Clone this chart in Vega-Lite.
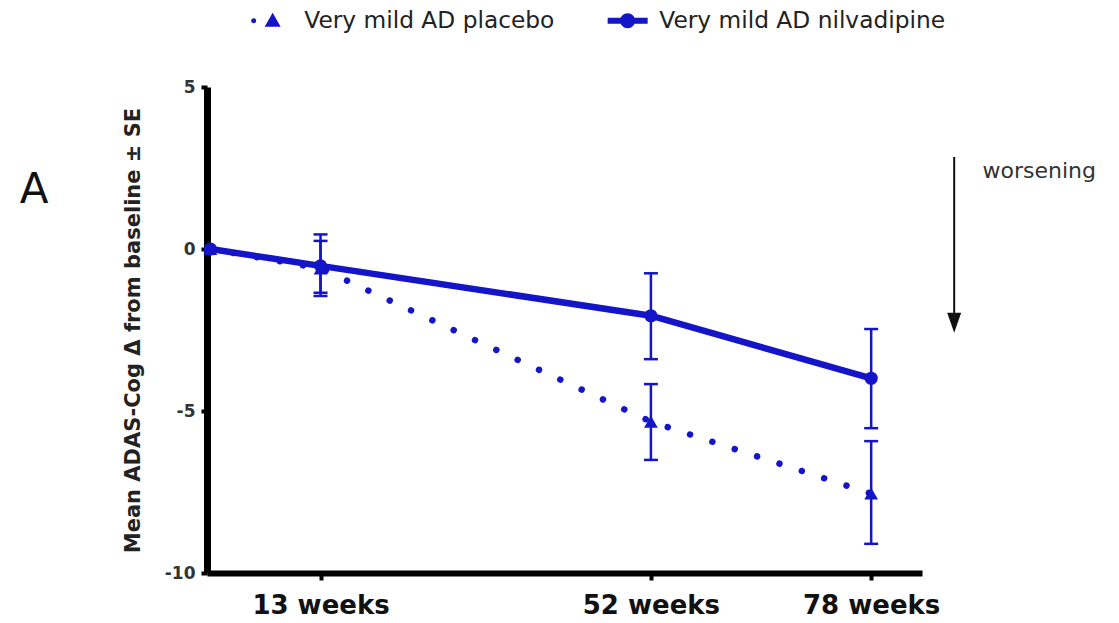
{
  "$schema": "https://vega.github.io/schema/vega-lite/v6.json",
  "width": 715,
  "height": 486,
  "autosize": {"type": "none"},
  "padding": {"left": 207, "top": 87, "right": 197, "bottom": 50},
  "background": "white",
  "config": {"view": {"stroke": null}, "font": "DejaVu Sans"},
  "datasets": {
    "series": [
      {"week": 0, "group": "placebo", "mean": 0},
      {"week": 13, "group": "placebo", "mean": -0.6, "lo": -1.45, "hi": 0.25},
      {"week": 52, "group": "placebo", "mean": -5.33, "lo": -6.51, "hi": -4.17},
      {"week": 78, "group": "placebo", "mean": -7.55, "lo": -9.1, "hi": -5.93},
      {"week": 0, "group": "nilvadipine", "mean": 0},
      {"week": 13, "group": "nilvadipine", "mean": -0.52, "lo": -1.35, "hi": 0.45},
      {"week": 52, "group": "nilvadipine", "mean": -2.06, "lo": -3.4, "hi": -0.75},
      {"week": 78, "group": "nilvadipine", "mean": -3.99, "lo": -5.53, "hi": -2.47}
    ],
    "annot": [
      {"x": 87.8, "ytop": 2.84, "ybot": -2.1, "yhead": -2.28, "tx": 91.14, "ty": 2.19, "label": "worsening", "ax": -20.8, "ay": 1.42, "panel": "A"}
    ]
  },
  "layer": [
    {
      "mark": {"type": "rule", "color": "#777777", "strokeWidth": 1.5, "strokeDash": [2, 4]},
      "encoding": {
        "y": {"datum": 0, "type": "quantitative", "scale": {"domain": [-10, 5]}}
      }
    },
    {
      "data": {"name": "series"},
      "transform": [{"filter": "isValid(datum.lo)"}],
      "mark": {"type": "errorbar", "color": "#1414c8", "thickness": 2.5, "opacity": 1, "ticks": {"size": 14, "thickness": 2.5, "color": "#1414c8", "opacity": 1}},
      "encoding": {
        "x": {"field": "week", "type": "quantitative", "scale": {"domain": [-0.4, 84]}, "title": null},
        "y": {"field": "lo", "type": "quantitative", "scale": {"domain": [-10, 5]}, "title": "Mean ADAS-Cog Δ from baseline ± SE"},
        "y2": {"field": "hi"}
      }
    },
    {
      "data": {"name": "series"},
      "transform": [{"filter": "datum.group == 'placebo'"}],
      "mark": {"type": "line", "color": "#1414c8", "strokeWidth": 6.5, "strokeDash": [0.01, 23.5], "strokeCap": "round"},
      "encoding": {
        "x": {"field": "week", "type": "quantitative", "scale": {"domain": [-0.4, 84]}},
        "y": {"field": "mean", "type": "quantitative", "scale": {"domain": [-10, 5]}}
      }
    },
    {
      "data": {"name": "series"},
      "transform": [{"filter": "datum.group == 'nilvadipine'"}],
      "mark": {"type": "line", "color": "#1414c8", "strokeWidth": 6.5},
      "encoding": {
        "x": {
          "field": "week", "type": "quantitative", "scale": {"domain": [-0.4, 84]},
          "axis": {
            "title": null, "values": [13, 52, 78], "labelExpr": "datum.value + ' weeks'",
            "domainColor": "#000000", "domainWidth": 6, "tickColor": "#000000", "tickWidth": 4, "tickSize": 7,
            "labelFont": "DejaVu Sans", "labelFontWeight": "bold", "labelFontSize": 26, "labelColor": "#111111",
            "labelPadding": 12, "grid": false, "labelFlush": false, "labelOverlap": false
          }
        },
        "y": {
          "field": "mean", "type": "quantitative", "scale": {"domain": [-10, 5]},
          "axis": {
            "title": "Mean ADAS-Cog Δ from baseline ± SE", "values": [-10, -5, 0, 5], "labelExpr": "'' + datum.value",
            "domainColor": "#000000", "domainWidth": 7, "tickColor": "#000000", "tickWidth": 4, "tickSize": 6,
            "labelFont": "DejaVu Sans", "labelFontWeight": "bold", "labelFontSize": 17, "labelColor": "#333333",
            "labelPadding": 6, "grid": false, "labelFlush": false, "labelOverlap": false,
            "titleFont": "DejaVu Sans", "titleFontWeight": "bold", "titleFontSize": 21, "titleColor": "#222222", "titlePadding": 21
          }
        }
      }
    },
    {
      "data": {"name": "series"},
      "transform": [{"filter": "datum.group == 'placebo'"}],
      "mark": {"type": "point", "filled": true, "opacity": 1, "color": "#1414c8", "size": 190, "shape": "triangle-up"},
      "encoding": {
        "x": {"field": "week", "type": "quantitative", "scale": {"domain": [-0.4, 84]}},
        "y": {"field": "mean", "type": "quantitative", "scale": {"domain": [-10, 5]}}
      }
    },
    {
      "data": {"name": "series"},
      "transform": [{"filter": "datum.group == 'nilvadipine'"}],
      "mark": {"type": "point", "filled": true, "opacity": 1, "color": "#1414c8", "size": 175, "shape": "circle"},
      "encoding": {
        "x": {"field": "week", "type": "quantitative", "scale": {"domain": [-0.4, 84]}},
        "y": {"field": "mean", "type": "quantitative", "scale": {"domain": [-10, 5]}}
      }
    },
    {
      "data": {"name": "series"},
      "transform": [{"filter": "false"}],
      "mark": {"type": "point", "filled": true, "color": "#1414c8", "size": 400},
      "encoding": {
        "x": {"field": "week", "type": "quantitative", "scale": {"domain": [-0.4, 84]}},
        "y": {"field": "mean", "type": "quantitative", "scale": {"domain": [-10, 5]}},
        "shape": {
          "field": "group", "type": "nominal",
          "scale": {
            "domain": ["placebo", "nilvadipine"],
            "range": [
              "M-1.65,0A0.25,0.25 0 1,1 -2.15,0A0.25,0.25 0 1,1 -1.65,0Z M0,-0.8L0.8,0.6L-0.8,0.6Z",
              "M-2,-0.3H2V0.3H-2Z M0.75,0A0.75,0.75 0 1,1 -0.75,0A0.75,0.75 0 1,1 0.75,0Z"
            ]
          },
          "legend": {
            "orient": "none", "legendX": 54, "legendY": -78, "direction": "horizontal", "title": null,
            "labelExpr": "datum.value == 'placebo' ? 'Very mild AD placebo' : 'Very mild AD nilvadipine'",
            "labelFont": "DejaVu Sans", "labelFontSize": 23.3, "labelColor": "#222222", "labelLimit": 500,
            "symbolSize": 400, "symbolFillColor": "#1414c8", "symbolStrokeWidth": 0, "symbolOpacity": 1,
            "labelOffset": 20, "columnPadding": 52, "padding": 0
          }
        }
      }
    },
    {
      "data": {"name": "annot"},
      "mark": {"type": "rule", "color": "#111111", "strokeWidth": 2},
      "encoding": {
        "x": {"field": "x", "type": "quantitative", "scale": {"domain": [-0.4, 84]}},
        "y": {"field": "ytop", "type": "quantitative", "scale": {"domain": [-10, 5]}},
        "y2": {"field": "ybot"}
      }
    },
    {
      "data": {"name": "annot"},
      "mark": {"type": "point", "filled": true, "opacity": 1, "color": "#111111", "size": 400, "shape": "M-0.7,-1L0.7,-1L0,1Z"},
      "encoding": {
        "x": {"field": "x", "type": "quantitative", "scale": {"domain": [-0.4, 84]}},
        "y": {"field": "yhead", "type": "quantitative", "scale": {"domain": [-10, 5]}}
      }
    },
    {
      "data": {"name": "annot"},
      "mark": {"type": "text", "align": "left", "baseline": "alphabetic", "font": "DejaVu Sans", "fontSize": 22, "color": "#333333"},
      "encoding": {
        "x": {"field": "tx", "type": "quantitative", "scale": {"domain": [-0.4, 84]}},
        "y": {"field": "ty", "type": "quantitative", "scale": {"domain": [-10, 5]}},
        "text": {"field": "label"}
      }
    },
    {
      "data": {"name": "annot"},
      "mark": {"type": "text", "align": "center", "baseline": "alphabetic", "font": "DejaVu Sans", "fontSize": 42, "color": "#111111"},
      "encoding": {
        "x": {"field": "ax", "type": "quantitative", "scale": {"domain": [-0.4, 84]}},
        "y": {"field": "ay", "type": "quantitative", "scale": {"domain": [-10, 5]}},
        "text": {"field": "panel"}
      }
    }
  ]
}
